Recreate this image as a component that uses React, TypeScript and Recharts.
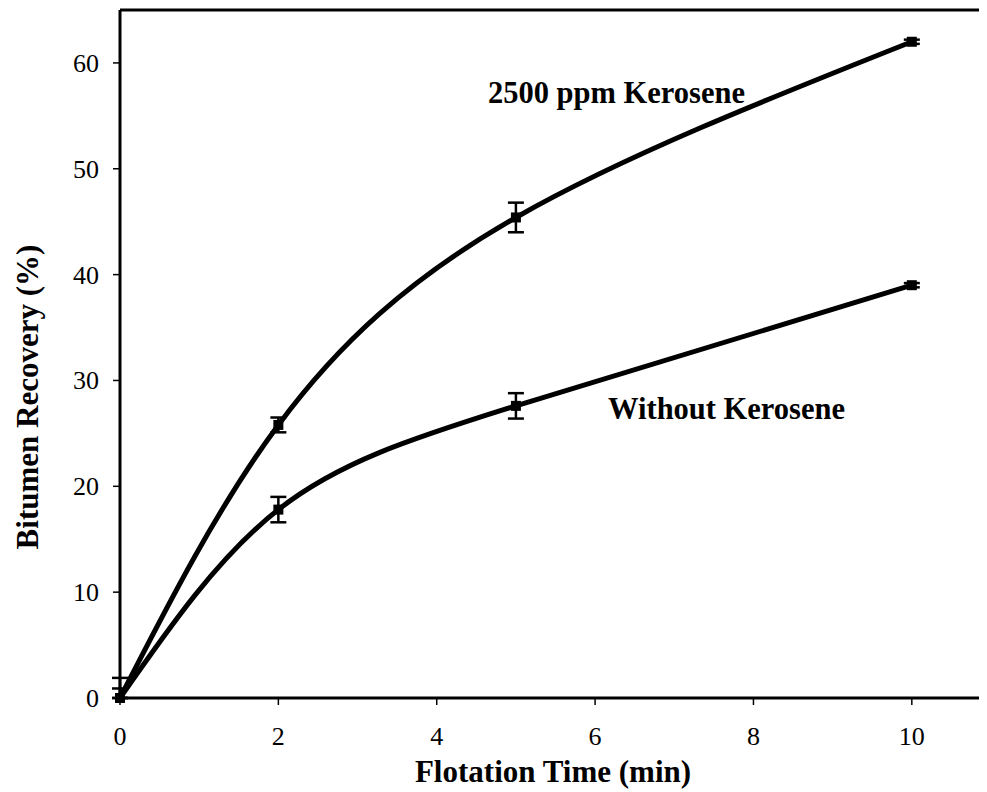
import React from "react";
import {
  ErrorBar,
  Label,
  Line,
  LineChart,
  ReferenceDot,
  ReferenceLine,
  XAxis,
  YAxis,
} from "recharts";

// flotation time (min)
const times = [0, 2, 5, 10];
// bitumen recovery (%)
const withKerosene = [0, 25.8, 45.4, 62.0];
const withoutKerosene = [0, 17.8, 27.6, 39.0];
// [lower, upper] error per point
const withKeroseneErr = [[0, 0.9], [0.7, 0.7], [1.4, 1.4], [0.2, 0.2]];
const withoutKeroseneErr = [[0, 1.9], [1.2, 1.2], [1.2, 1.2], [0.2, 0.2]];

const xTicks = [0, 2, 4, 6, 8, 10];
const yTicks = [0, 10, 20, 30, 40, 50, 60];

const FONT = "'Liberation Serif', 'Times New Roman', serif";

const data = times.map((t, i) => ({
  time: t,
  kero: withKerosene[i],
  keroErr: withKeroseneErr[i],
  plain: withoutKerosene[i],
  plainErr: withoutKeroseneErr[i],
}));

const SquareDot = (props: any) => {
  const { cx, cy } = props;
  if (cx == null || cy == null) return null;
  return <rect x={cx - 5} y={cy - 5} width={10} height={10} fill="#000" />;
};

const XTick = (props: any) => (
  <text
    x={props.x}
    y={props.y + 38}
    textAnchor="middle"
    fill="#000"
    fontSize={26}
    fontFamily={FONT}
  >
    {props.payload.value}
  </text>
);

const YTick = (props: any) => (
  <text
    x={props.x}
    y={props.y + 9}
    textAnchor="end"
    fill="#000"
    fontSize={26}
    fontFamily={FONT}
  >
    {props.payload.value}
  </text>
);

const boldLabel = {
  fill: "#000",
  fontSize: 31,
  fontWeight: "bold",
  fontFamily: FONT,
};

const noteLabel = { ...boldLabel, fontSize: 30.5 };

const App = () => {
  return (
    <div
      style={{
        marginLeft: -8,
        marginTop: -8,
        width: 987,
        height: 792,
        overflow: "hidden",
        background: "#fff",
      }}
    >
      <LineChart
        width={1000}
        height={792}
        data={data}
        margin={{ top: 10, right: 9, left: 0, bottom: 0 }}
      >
        <XAxis
          dataKey="time"
          type="number"
          domain={[0, 11]}
          ticks={xTicks}
          height={94}
          axisLine={{ stroke: "#000", strokeWidth: 3 }}
          tickLine={{ stroke: "#000", strokeWidth: 1.5 }}
          tickSize={7}
          tickMargin={2}
          tick={<XTick />}
        >
          <Label
            content={({ viewBox }: any) => (
              <text
                x={553}
                y={viewBox.y + 84}
                textAnchor="middle"
                {...boldLabel}
              >
                Flotation Time (min)
              </text>
            )}
          />
        </XAxis>
        <YAxis
          type="number"
          domain={[0, 65]}
          ticks={yTicks}
          width={120}
          axisLine={{ stroke: "#000", strokeWidth: 3 }}
          tickLine={{ stroke: "#000", strokeWidth: 1.5 }}
          tickSize={7}
          tickMargin={14}
          tick={<YTick />}
        >
          <Label
            content={() => (
              <text
                x={0}
                y={0}
                transform="translate(38, 397) rotate(-90)"
                textAnchor="middle"
                {...boldLabel}
              >
                Bitumen Recovery (%)
              </text>
            )}
          />
        </YAxis>
        <ReferenceLine y={65} stroke="#000" strokeWidth={3} />
        <ReferenceLine x={11} stroke="#000" strokeWidth={3} />
        <Line
          type="natural"
          dataKey="kero"
          stroke="#000"
          strokeWidth={5}
          dot={<SquareDot />}
          activeDot={false}
          isAnimationActive={false}
        >
          <ErrorBar
            dataKey="keroErr"
            direction="y"
            width={8}
            stroke="#000"
            strokeWidth={2.5}
            isAnimationActive={false}
          />
        </Line>
        <Line
          type="natural"
          dataKey="plain"
          stroke="#000"
          strokeWidth={5}
          dot={<SquareDot />}
          activeDot={false}
          isAnimationActive={false}
        >
          <ErrorBar
            dataKey="plainErr"
            direction="y"
            width={8}
            stroke="#000"
            strokeWidth={2.5}
            isAnimationActive={false}
          />
        </Line>
        <ReferenceDot
          x={6.27}
          y={57.2}
          r={0}
          fill="none"
          stroke="none"
          label={{ value: "2500 ppm Kerosene", position: "center", ...noteLabel }}
        />
        <ReferenceDot
          x={7.66}
          y={27.4}
          r={0}
          fill="none"
          stroke="none"
          label={{ value: "Without Kerosene", position: "center", ...noteLabel }}
        />
      </LineChart>
    </div>
  );
};

export default App;
